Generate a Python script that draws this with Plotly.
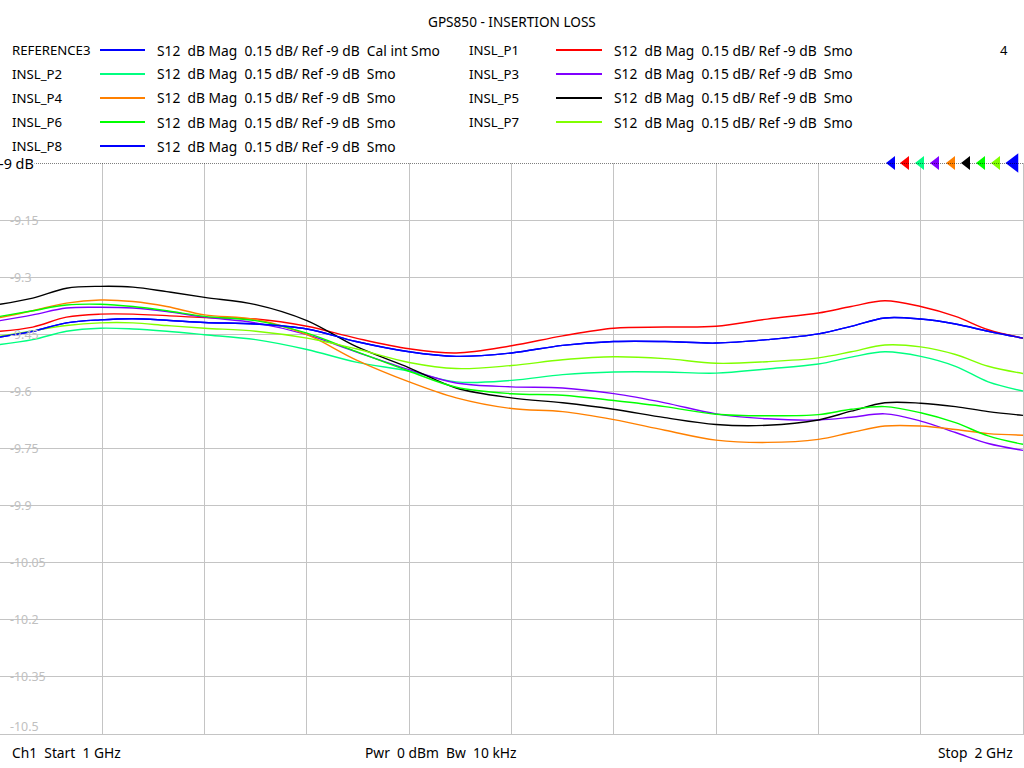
import plotly.graph_objects as go

# ---------------- data ----------------
freq_ghz = [1.0, 1.032, 1.065, 1.098, 1.130, 1.163, 1.200, 1.250, 1.300, 1.348,
            1.400, 1.446, 1.500, 1.550, 1.600, 1.650, 1.700, 1.750, 1.800, 1.832,
            1.865, 1.900, 1.934, 1.966, 2.0]

reference3 = [-9.457, -9.442, -9.420, -9.412, -9.409, -9.413, -9.419, -9.423, -9.436, -9.469,
              -9.496, -9.508, -9.499, -9.479, -9.469, -9.469, -9.473, -9.464, -9.449, -9.429,
              -9.407, -9.410, -9.423, -9.442, -9.460]
insl_p1 = [-9.442, -9.431, -9.405, -9.397, -9.397, -9.401, -9.406, -9.410, -9.429, -9.460,
           -9.488, -9.499, -9.480, -9.454, -9.434, -9.431, -9.429, -9.410, -9.394, -9.377,
           -9.362, -9.377, -9.403, -9.438, -9.460]
insl_p2 = [-9.477, -9.464, -9.442, -9.434, -9.436, -9.442, -9.451, -9.464, -9.490, -9.523,
           -9.547, -9.575, -9.571, -9.556, -9.549, -9.549, -9.552, -9.541, -9.528, -9.510,
           -9.496, -9.508, -9.534, -9.575, -9.599]
insl_p3 = [-9.414, -9.399, -9.381, -9.379, -9.381, -9.390, -9.405, -9.420, -9.451, -9.496,
           -9.543, -9.578, -9.588, -9.591, -9.606, -9.630, -9.659, -9.672, -9.675, -9.668,
           -9.659, -9.678, -9.708, -9.737, -9.755]
insl_p4 = [-9.406, -9.388, -9.368, -9.360, -9.364, -9.377, -9.399, -9.411, -9.451, -9.517,
           -9.575, -9.617, -9.645, -9.653, -9.674, -9.702, -9.728, -9.734, -9.726, -9.708,
           -9.691, -9.691, -9.700, -9.711, -9.715]
insl_p5 = [-9.371, -9.355, -9.329, -9.324, -9.326, -9.338, -9.353, -9.372, -9.414, -9.482,
           -9.538, -9.591, -9.617, -9.630, -9.647, -9.669, -9.687, -9.689, -9.675, -9.652,
           -9.630, -9.631, -9.640, -9.653, -9.663]
insl_p6 = [-9.403, -9.388, -9.373, -9.371, -9.377, -9.388, -9.403, -9.414, -9.447, -9.495,
           -9.547, -9.589, -9.606, -9.610, -9.624, -9.640, -9.660, -9.664, -9.661, -9.647,
           -9.640, -9.656, -9.682, -9.717, -9.739]
insl_p7 = [-9.455, -9.441, -9.427, -9.420, -9.420, -9.427, -9.434, -9.442, -9.460, -9.488,
           -9.524, -9.540, -9.532, -9.517, -9.509, -9.514, -9.526, -9.522, -9.512, -9.496,
           -9.478, -9.483, -9.503, -9.534, -9.553]
insl_p8 = list(reference3)

trace_names = ["REFERENCE3", "INSL_P1", "INSL_P2", "INSL_P3", "INSL_P4",
               "INSL_P5", "INSL_P6", "INSL_P7", "INSL_P8"]
trace_values = [reference3, insl_p1, insl_p2, insl_p3, insl_p4,
                insl_p5, insl_p6, insl_p7, insl_p8]
trace_desc = ["S12  dB Mag  0.15 dB/ Ref -9 dB  Cal int Smo"] + \
             ["S12  dB Mag  0.15 dB/ Ref -9 dB  Smo"] * 8

y_tick_labels = ["-9.15", "-9.3", "-9.45", "-9.6", "-9.75", "-9.9",
                 "-10.05", "-10.2", "-10.35", "-10.5"]
y_tick_values = [-9.15, -9.3, -9.45, -9.6, -9.75, -9.9, -10.05, -10.2, -10.35, -10.5]

title_text = "GPS850 - INSERTION LOSS"
footer_left = "Ch1  Start  1 GHz"
footer_mid = "Pwr  0 dBm  Bw  10 kHz"
footer_right = "Stop  2 GHz"
ref_label = "-9 dB"
channel_number = "4"

# ---------------- styling ----------------
colors = ["#0000ff", "#ff0000", "#00ff80", "#8000ff", "#ff8000",
          "#000000", "#00ff00", "#80ff00", "#0000ff"]
FONT = "Noto Sans, Open Sans, DejaVu Sans, sans-serif"
GRID = "#c4c4c4"

W, H = 1024, 768
ML, MR, MT, MB = 0, 1, 163, 34
PW = W - ML - MR
PH = H - MT - MB
DB_PER_PX = 1.5 / PH


def px(x):
    return (x - ML) / PW


def py(y):
    return (H - MB - y) / PH


def nb(s):
    return s.replace(" ", "\u00a0")


fig = go.Figure()

for name, vals, col in zip(trace_names, trace_values, colors):
    fig.add_trace(go.Scatter(x=freq_ghz, y=vals, mode="lines", name=name,
                             line=dict(color=col, width=1.4, shape="spline"),
                             showlegend=False, hoverinfo="skip"))

annotations = []
shapes = []

# title
annotations.append(dict(x=px(512), y=py(21), xref="paper", yref="paper",
                        text=nb(title_text), showarrow=False,
                        font=dict(family=FONT, size=13.6, color="#000000"),
                        xanchor="center", yanchor="middle"))

# legend block (two columns)
left_order = [0, 2, 4, 6, 8]
right_order = [1, 3, 5, 7]
row_y = [50, 74, 98, 122, 146]
columns = [(left_order, 10, 100, 145, 155), (right_order, 467, 556, 602, 612)]
for order, xn, xl0, xl1, xt in columns:
    for row, idx in enumerate(order):
        yy = row_y[row]
        annotations.append(dict(x=px(xn), y=py(yy), xref="paper", yref="paper",
                                text=nb(trace_names[idx]), showarrow=False,
                                font=dict(family=FONT, size=13.2, color="#000000"),
                                xanchor="left", yanchor="middle"))
        annotations.append(dict(x=px(xt), y=py(yy), xref="paper", yref="paper",
                                text=nb(trace_desc[idx]), showarrow=False,
                                font=dict(family=FONT, size=13.8, color="#000000"),
                                xanchor="left", yanchor="middle"))
        shapes.append(dict(type="line", xref="paper", yref="paper",
                           x0=px(xl0), x1=px(xl1), y0=py(yy), y1=py(yy),
                           line=dict(color=colors[idx], width=2)))

annotations.append(dict(x=px(1010), y=py(50), xref="paper", yref="paper",
                        text=channel_number, showarrow=False,
                        font=dict(family=FONT, size=13, color="#000000"),
                        xanchor="right", yanchor="middle"))

# reference line (dotted) at -9 dB
shapes.append(dict(type="line", xref="paper", yref="y", x0=0, x1=1,
                   y0=-9, y1=-9, line=dict(color="#000000", width=1, dash="1px,1px"),
                   layer="above"))
annotations.append(dict(x=0, y=-9, xref="paper", yref="y", text=nb(ref_label),
                        showarrow=False, font=dict(family=FONT, size=14.4, color="#000000"),
                        xanchor="left", yanchor="middle", bgcolor="#ffffff",
                        borderpad=0, xshift=-2))

# y tick labels inside the plot: white gap in the gridline, text above it
for lab, val in zip(y_tick_labels, y_tick_values):
    bottom = (val == -10.5)
    wpx = len(lab) * 6.2 + 4
    yc = val + (8 * DB_PER_PX if bottom else 0)
    if not bottom:
        shapes.append(dict(type="rect", xref="paper", yref="y",
                           x0=px(8), x1=px(8 + wpx),
                           y0=yc - 3 * DB_PER_PX, y1=yc + 3 * DB_PER_PX,
                           fillcolor="#ffffff", line=dict(width=0), layer="between"))
    annotations.append(dict(x=px(9), y=yc, xref="paper", yref="y", text=lab,
                            showarrow=False,
                            font=dict(family=FONT, size=12.4, color="#c0c0c0"),
                            xanchor="left", yanchor="middle", borderpad=0))

# footer
for txt, xx, anc in [(footer_left, 10, "left"), (footer_mid, 363, "left"),
                     (footer_right, 1015, "right")]:
    annotations.append(dict(x=px(xx), y=py(752), xref="paper", yref="paper",
                            text=nb(txt), showarrow=False,
                            font=dict(family=FONT, size=13.8, color="#000000"),
                            xanchor=anc, yanchor="middle"))

# reference level markers (triangles) along the top edge
marker_px = [892, 906, 921, 936, 952, 967, 982, 997]
for i, xp in enumerate(marker_px):
    fig.add_trace(go.Scatter(x=[1 + xp / PW], y=[-9], mode="markers",
                             marker=dict(symbol="triangle-left", size=12,
                                         color=colors[i], line=dict(width=0)),
                             cliponaxis=False, showlegend=False, hoverinfo="skip"))
fig.add_trace(go.Scatter(x=[1 + 1014 / PW], y=[-9], mode="markers",
                         marker=dict(symbol="triangle-left", size=17,
                                     color=colors[8], line=dict(width=0)),
                         cliponaxis=False, showlegend=False, hoverinfo="skip"))

fig.update_layout(
    width=W, height=H, autosize=False,
    margin=dict(l=ML, r=MR, t=MT, b=MB, pad=0),
    paper_bgcolor="#ffffff", plot_bgcolor="#ffffff",
    showlegend=False,
    annotations=annotations, shapes=shapes,
    xaxis=dict(range=[1, 2], tick0=1, dtick=0.1, showgrid=True, gridcolor=GRID,
               gridwidth=1, showticklabels=False, ticks="", zeroline=False,
               showline=True, linecolor=GRID, linewidth=1, mirror=False, fixedrange=True),
    yaxis=dict(range=[-10.5, -9], tickmode="array",
               tickvals=y_tick_values[:-1], showgrid=True, gridcolor=GRID,
               gridwidth=1, showticklabels=False, ticks="", zeroline=False,
               showline=True, linecolor=GRID, linewidth=1, mirror=True, fixedrange=True),
)

fig.write_html("out.html", config={"displayModeBar": False},
               post_script="document.body.style.margin='0px';")
